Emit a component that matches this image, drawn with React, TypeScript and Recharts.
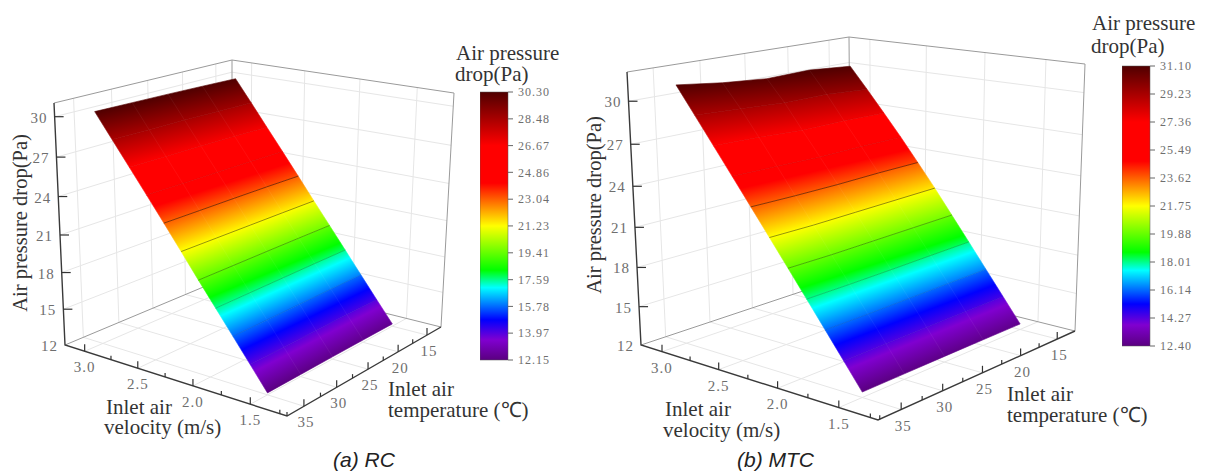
import { BarChart, Bar, XAxis, YAxis, ScatterChart, Scatter } from 'recharts'

const W = 1211
const H = 473

const velocityRows = [1.5, 1.65, 1.8, 1.95, 2.1, 2.25, 2.4, 2.55, 2.7, 2.85, 3.0]
const temperatureCols = [35, 30, 25, 20, 15]

const velocityTicks = [3.0, 2.5, 2.0, 1.5]
const velocityMinor = [2.75, 2.25, 1.75, 1.25]
const temperatureTicks = [35, 30, 25, 20, 15]
const temperatureMinor = [37.5, 32.5, 27.5, 22.5, 17.5]
const pressureTicks = [12, 15, 18, 21, 24, 27, 30]

// pressure drop per inlet temperature, one value per velocity row
const rc35 = [12.15, 13.95, 15.75, 17.55, 19.35, 21.2, 23.04, 24.86, 26.67, 28.48, 30.3]
const rc30 = [12.17, 13.96, 15.76, 17.56, 19.36, 21.19, 23.03, 24.84, 26.64, 28.44, 30.25]
const rc25 = [12.19, 13.97, 15.77, 17.57, 19.37, 21.18, 23.02, 24.82, 26.62, 28.41, 30.2]
const rc20 = [12.2, 13.98, 15.78, 17.58, 19.37, 21.17, 23.0, 24.8, 26.58, 28.36, 30.13]
const rc15 = [12.2, 13.97, 15.77, 17.57, 19.36, 21.15, 22.96, 24.75, 26.52, 28.3, 30.05]
const rcBarTicks = [12.15, 13.97, 15.78, 17.59, 19.41, 21.23, 23.04, 24.86, 26.67, 28.48, 30.3]

const mtc35 = [12.4, 14.27, 16.14, 18.01, 19.88, 21.75, 23.62, 25.49, 27.36, 29.23, 31.1]
const mtc30 = [12.42, 14.28, 16.13, 17.99, 19.84, 21.7, 23.55, 25.41, 27.25, 29.05, 30.68]
const mtc25 = [12.44, 14.3, 16.15, 18.0, 19.86, 21.72, 23.52, 25.3, 27.05, 28.85, 30.4]
const mtc20 = [12.45, 14.31, 16.17, 18.03, 19.88, 21.74, 23.55, 25.32, 27.06, 28.85, 30.47]
const mtc15 = [12.45, 14.32, 16.18, 18.05, 19.9, 21.76, 23.53, 25.28, 26.95, 28.6, 30.2]
const mtcBarTicks = [12.4, 14.27, 16.14, 18.01, 19.88, 21.75, 23.62, 25.49, 27.36, 29.23, 31.1]

const colorStops: [number, string][] = [
  [0, '#5a0080'],
  [0.075, '#8000d0'],
  [0.15, '#0000ff'],
  [0.27, '#00ffff'],
  [0.335, '#00ff00'],
  [0.5, '#ffff00'],
  [0.66, '#ff0000'],
  [0.8, '#ff0000'],
  [1, '#500000'],
]

// how strongly each mesh row shows through the colours, low velocity first
const rowLineAlpha = [0, 0.05, 0.1, 0.2, 0.32, 0.42, 0.48, 0.08, 0.05, 0.03, 0]

const panels = [
  {
    id: 'rc',
    rows: [rc35, rc30, rc25, rc20, rc15],
    min: 12.15,
    max: 30.3,
    // box corners on the page: floor L F R B, then the same four on top
    floor: { L: [65, 345], F: [287, 416], R: [441, 327], B: [232, 275] },
    top: { L: [54, 103], F: [290, 146], R: [454, 93], B: [232, 60] },
    vRange: [3.19, 1.19],
    tRange: [37.5, 12.5],
    zRange: [12, 31],
  },
  {
    id: 'mtc',
    rows: [mtc35, mtc30, mtc25, mtc20, mtc15],
    min: 12.4,
    max: 31.1,
    floor: { L: [641, 345], F: [878, 420], R: [1075, 331], B: [851, 275] },
    top: { L: [627, 72], F: [881, 118], R: [1085, 64], B: [849, 37] },
    vRange: [3.19, 1.19],
    tRange: [37.7, 12.5],
    zRange: [12, 32],
  },
]

type Panel = (typeof panels)[number]

function bend(s: number, k: number) {
  return s / (s + (1 - s) * k)
}

function project(p: Panel, v: number, t: number, z: number) {
  const fv = bend((p.vRange[0] - v) / (p.vRange[0] - p.vRange[1]), 1.08)
  const ft = bend((p.tRange[0] - t) / (p.tRange[0] - p.tRange[1]), 0.9)
  const fz = bend((z - p.zRange[0]) / (p.zRange[1] - p.zRange[0]), 1.08)
  const plane = (c: typeof p.floor, i: 0 | 1) => {
    const near = c.L[i] + (c.F[i] - c.L[i]) * fv
    const far = c.B[i] + (c.R[i] - c.B[i]) * fv
    return near + (far - near) * ft
  }
  return {
    x: plane(p.floor, 0) + (plane(p.top, 0) - plane(p.floor, 0)) * fz,
    y: plane(p.floor, 1) + (plane(p.top, 1) - plane(p.floor, 1)) * fz,
  }
}

function hex(c: string) {
  return [1, 3, 5].map((i) => parseInt(c.slice(i, i + 2), 16))
}

function colorAt(n: number) {
  for (let i = 1; i < colorStops.length; i++) {
    const [a, ca] = colorStops[i - 1]
    const [b, cb] = colorStops[i]
    if (n <= b) {
      const f = (n - a) / (b - a)
      const x = hex(ca)
      const y = hex(cb)
      return `rgb(${x.map((q, j) => Math.round(q + (y[j] - q) * f)).join(',')})`
    }
  }
  return colorStops[colorStops.length - 1][1]
}

const noPoint = () => null

function line3d(key: string, data: { x: number; y: number }[], stroke: string, width = 1) {
  return (
    <Scatter
      key={key}
      data={data}
      line={{ stroke, strokeWidth: width }}
      shape={noPoint}
      isAnimationActive={false}
      legendType="none"
    />
  )
}

function strip(p: Panel, i: number) {
  const upper = temperatureCols.map((t, c) => project(p, velocityRows[i + 1], t, p.rows[c][i + 1]))
  const lower = temperatureCols.map((t, c) => project(p, velocityRows[i], t, p.rows[c][i]))
  const n0 = (p.rows[0][i + 1] - p.min) / (p.max - p.min)
  const n1 = (p.rows[0][i] - p.min) / (p.max - p.min)
  const id = `${p.id}-strip-${i}`
  const renderStrip = (props: any) => {
    const pts = props.points as { x: number; y: number }[]
    const a = pts[0]
    const b = pts[4]
    const c = pts[9]
    const dx = b.x - a.x
    const dy = b.y - a.y
    const len = Math.hypot(dx, dy)
    const nx = -dy / len
    const ny = dx / len
    const dist = (c.x - a.x) * nx + (c.y - a.y) * ny
    const inner = colorStops.filter(([s]) => s < n0 && s > n1).map(([s]) => s).reverse()
    const stops = [n0, ...inner, n1]
    return (
      <g>
        <defs>
          <linearGradient
            id={id}
            gradientUnits="userSpaceOnUse"
            x1={a.x}
            y1={a.y}
            x2={a.x + nx * dist}
            y2={a.y + ny * dist}
          >
            {stops.map((s) => (
              <stop key={s} offset={(n0 - s) / (n0 - n1)} stopColor={colorAt(s)} />
            ))}
          </linearGradient>
        </defs>
        <polygon
          points={pts.map((q) => `${q.x},${q.y}`).join(' ')}
          fill={`url(#${id})`}
          stroke={`url(#${id})`}
          strokeWidth={0.6}
        />
      </g>
    )
  }
  return (
    <Scatter
      key={id}
      data={[...upper, ...[...lower].reverse()]}
      line={renderStrip}
      shape={noPoint}
      isAnimationActive={false}
      legendType="none"
    />
  )
}

const tickFont = { fontFamily: 'Liberation Serif', fontSize: 15, fill: '#6e6e6e', letterSpacing: 1 }

function axisTick(props: any) {
  const { cx, cy, payload } = props
  const { label, len, side } = payload
  if (side === 'z') {
    return (
      <g>
        <line x1={cx} y1={cy} x2={cx + len} y2={cy} stroke="#333" strokeWidth={1.2} />
        <text x={cx - 7} y={cy + 6} textAnchor="end" {...tickFont}>
          {label}
        </text>
      </g>
    )
  }
  return (
    <g>
      <line x1={cx} y1={cy} x2={cx} y2={cy - len} stroke="#333" strokeWidth={1.2} />
      {label && (
        <text x={cx + (side === 't' ? 2 : 0)} y={cy + 21} textAnchor="middle" {...tickFont}>
          {label}
        </text>
      )}
    </g>
  )
}

function panelMarks(p: Panel) {
  const [z0, z1] = p.zRange
  const [v0, v1] = p.vRange
  const [t0, t1] = p.tRange
  const grid = '#e6e6e6'
  const frame = '#9a9a9a'
  const dark = '#3a3a3a'
  const marks = []

  for (const v of velocityTicks) {
    marks.push(line3d(`${p.id}-fv${v}`, [project(p, v, t0, z0), project(p, v, t1, z0)], grid))
    marks.push(line3d(`${p.id}-wv${v}`, [project(p, v, t1, z0), project(p, v, t1, z1)], grid))
  }
  for (const t of temperatureTicks) {
    marks.push(line3d(`${p.id}-ft${t}`, [project(p, v0, t, z0), project(p, v1, t, z0)], grid))
    marks.push(line3d(`${p.id}-wt${t}`, [project(p, v0, t, z0), project(p, v0, t, z1)], grid))
  }
  for (const z of pressureTicks.slice(1)) {
    marks.push(
      line3d(`${p.id}-wz${z}`, [project(p, v0, t0, z), project(p, v0, t1, z), project(p, v1, t1, z)], grid),
    )
  }

  marks.push(
    line3d(
      `${p.id}-frame`,
      [
        project(p, v0, t0, z1),
        project(p, v0, t1, z1),
        project(p, v1, t1, z1),
        project(p, v1, t1, z0),
        project(p, v0, t1, z0),
        project(p, v0, t0, z0),
      ],
      frame,
    ),
  )
  marks.push(line3d(`${p.id}-back`, [project(p, v0, t1, z0), project(p, v0, t1, z1)], frame))

  velocityRows.slice(0, -1).forEach((_, i) => marks.push(strip(p, i)))

  temperatureCols.forEach((t, c) =>
    marks.push(
      line3d(
        `${p.id}-col${t}`,
        velocityRows.map((v, i) => project(p, v, t, p.rows[c][i])),
        'rgba(255,255,255,0.07)',
        0.8,
      ),
    ),
  )
  velocityRows.forEach((v, i) =>
    marks.push(
      line3d(
        `${p.id}-row${v}`,
        temperatureCols.map((t, c) => project(p, v, t, p.rows[c][i])),
        `rgba(0,0,0,${rowLineAlpha[i]})`,
        1,
      ),
    ),
  )

  marks.push(
    line3d(
      `${p.id}-axes`,
      [project(p, v0, t0, z1), project(p, v0, t0, z0), project(p, v1, t0, z0), project(p, v1, t1, z0)],
      dark,
      1.4,
    ),
  )

  const ticks = [
    ...velocityTicks.map((v) => ({ ...project(p, v, t0, z0), label: v.toFixed(1), len: 7, side: 'v' })),
    ...velocityMinor.map((v) => ({ ...project(p, v, t0, z0), label: '', len: 4, side: 'v' })),
    ...temperatureTicks.map((t) => ({ ...project(p, v1, t, z0), label: String(t), len: 7, side: 't' })),
    ...temperatureMinor.map((t) => ({ ...project(p, v1, t, z0), label: '', len: 4, side: 't' })),
    ...pressureTicks.map((z) => ({ ...project(p, v0, t0, z), label: String(z), len: z === 12 ? 0 : 9, side: 'z' })),
  ]
  marks.push(
    <Scatter
      key={`${p.id}-ticks`}
      data={ticks}
      shape={axisTick}
      isAnimationActive={false}
      legendType="none"
    />,
  )
  return marks
}

function ColorBar({
  id,
  min,
  max,
  ticks,
  style,
  height,
}: {
  id: string
  min: number
  max: number
  ticks: number[]
  style: React.CSSProperties
  height: number
}) {
  return (
    <div style={{ position: 'absolute', ...style }}>
      <BarChart
        width={90}
        height={height + 16}
        data={[{ name: id, range: [min, max] }]}
        margin={{ top: 8, right: 0, bottom: 8, left: 0 }}
        barCategoryGap={0}
      >
        <defs>
          <linearGradient id={`bar-${id}`} x1="0" y1="1" x2="0" y2="0">
            {colorStops.map(([s, c]) => (
              <stop key={s} offset={s} stopColor={c} />
            ))}
          </linearGradient>
        </defs>
        <XAxis dataKey="name" hide />
        <YAxis
          orientation="right"
          type="number"
          width={62}
          domain={[min, max]}
          ticks={ticks}
          interval={0}
          axisLine={false}
          tickSize={5}
          tickMargin={5}
          tickLine={{ stroke: '#666' }}
          tickFormatter={(v: number) => v.toFixed(2)}
          tick={{ fontSize: 12, fill: '#6e6e6e', fontFamily: 'Liberation Serif', letterSpacing: 1 }}
        />
        <Bar dataKey="range" fill={`url(#bar-${id})`} stroke="#555" strokeWidth={0.5} isAnimationActive={false} />
      </BarChart>
    </div>
  )
}

const title: React.CSSProperties = {
  position: 'absolute',
  fontFamily: 'Liberation Serif',
  fontSize: 21,
  lineHeight: '18px',
  color: '#333',
  whiteSpace: 'nowrap',
}

const caption: React.CSSProperties = {
  position: 'absolute',
  fontFamily: 'Liberation Sans',
  fontStyle: 'italic',
  fontSize: 21,
  lineHeight: '21px',
  color: '#222',
  whiteSpace: 'nowrap',
}

function Label({ x, base, text }: { x: number; base: number; text: string }) {
  return <div style={{ ...title, left: x, top: base - 14.5 }}>{text}</div>
}

function YTitle({ x, y, text }: { x: number; y: number; text: string }) {
  return (
    <div
      style={{
        ...title,
        left: x,
        top: y,
        fontSize: 20.5,
        transform: 'translate(-50%, -50%) rotate(-90deg)',
      }}
    >
      {text}
    </div>
  )
}

export default function App() {
  return (
    <div style={{ position: 'absolute', left: 0, top: 0, width: W, height: H, background: '#fff', overflow: 'hidden' }}>
      <div style={{ position: 'absolute', left: 0, top: 0 }}>
        <ScatterChart width={W} height={H} margin={{ top: 0, right: 0, bottom: 0, left: 0 }}>
          <XAxis type="number" dataKey="x" domain={[0, W]} hide />
          <YAxis type="number" dataKey="y" domain={[0, H]} reversed hide />
          {panels.map((p) => panelMarks(p))}
        </ScatterChart>
      </div>

      <ColorBar id="rc" min={12.15} max={30.3} ticks={rcBarTicks} height={268} style={{ left: 480, top: 84 }} />
      <ColorBar id="mtc" min={12.4} max={31.1} ticks={mtcBarTicks} height={280} style={{ left: 1122, top: 58 }} />

      <YTitle x={20} y={223} text="Air pressure drop(Pa)" />
      <Label x={106} base={412} text="Inlet air" />
      <Label x={104} base={432} text="velocity (m/s)" />
      <Label x={388} base={394} text="Inlet air" />
      <Label x={388} base={415} text="temperature (℃)" />
      <Label x={456} base={58} text="Air pressure" />
      <Label x={455} base={79} text="drop(Pa)" />
      <div style={{ ...caption, left: 333, top: 449 }}>(a) RC</div>

      <YTitle x={594} y={205} text="Air pressure drop(Pa)" />
      <Label x={665} base={414} text="Inlet air" />
      <Label x={663} base={435} text="velocity (m/s)" />
      <Label x={1007} base={399} text="Inlet air" />
      <Label x={1007} base={420} text="temperature (℃)" />
      <Label x={1092} base={28} text="Air pressure" />
      <Label x={1091} base={51} text="drop(Pa)" />
      <div style={{ ...caption, left: 737, top: 449 }}>(b) MTC</div>
    </div>
  )
}
